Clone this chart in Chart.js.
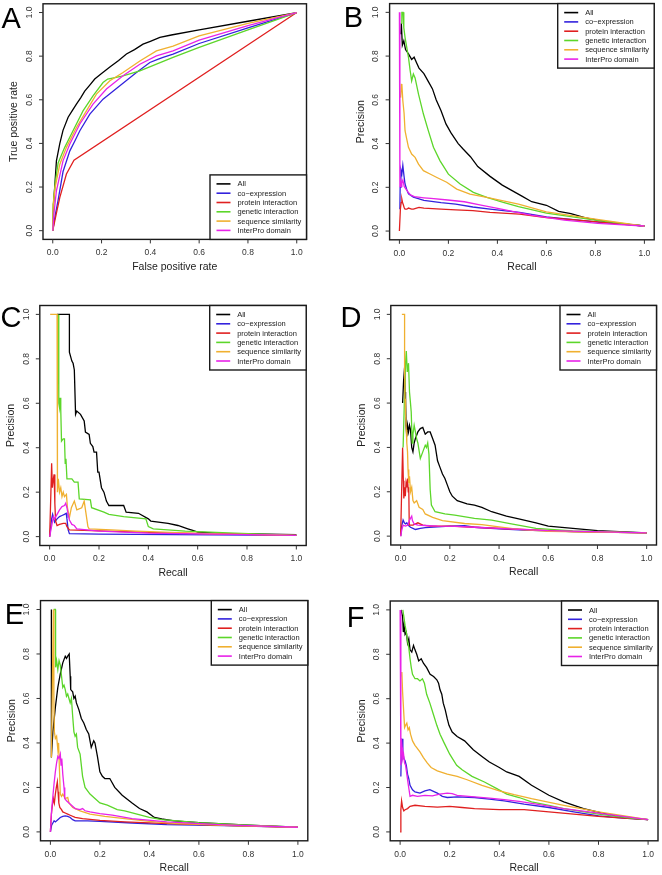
<!DOCTYPE html>
<html>
<head>
<meta charset="utf-8">
<script src="https://cdn.jsdelivr.net/npm/chart.js@4.4.1/dist/chart.umd.min.js"></script>
<style>
html,body{margin:0;padding:0;background:#fff;}
#wrap{position:relative;width:662px;height:875px;overflow:hidden;background:#fff;}
#wrap canvas{position:absolute;left:0;top:0;}
</style>
</head>
<body>
<div id="wrap"></div>
<script>
// ---------- categories / tick labels ----------
const seriesNames = ["All","co\u2212expression","protein interaction","genetic interaction","sequence similarity","InterPro domain"];
const tickValues = [0,0.2,0.4,0.6,0.8,1.0];
const tickLabels = ["0.0","0.2","0.4","0.6","0.8","1.0"];
const panelLetters = ["A","B","C","D","E","F"];
const xTitles = ["False positive rate","Recall","Recall","Recall","Recall","Recall"];
const yTitles = ["True positive rate","Precision","Precision","Precision","Precision","Precision"];

// ---------- panel A (ROC: [FPR, TPR]) ----------
const rocA_all = [[0,0],[0.003,0.12],[0.008,0.2],[0.015,0.32],[0.029,0.4],[0.042,0.46],[0.063,0.52],[0.08,0.55],[0.097,0.58],[0.115,0.61],[0.131,0.64],[0.15,0.665],[0.172,0.695],[0.2,0.72],[0.234,0.75],[0.27,0.78],[0.302,0.81],[0.335,0.83],[0.37,0.855],[0.4,0.868],[0.439,0.886],[0.486,0.897],[0.6,0.92],[0.8,0.96],[1,1]];
const rocA_coexp = [[0,0],[0.01,0.07],[0.022,0.14],[0.042,0.27],[0.07,0.366],[0.09,0.41],[0.111,0.458],[0.152,0.534],[0.206,0.603],[0.275,0.664],[0.343,0.725],[0.398,0.771],[0.43,0.785],[0.452,0.794],[0.493,0.809],[0.6,0.858],[0.8,0.93],[1,1]];
const rocA_prot = [[0,0],[0.015,0.08],[0.029,0.153],[0.056,0.26],[0.087,0.323],[1,1]];
const rocA_gen = [[0,0],[0.002,0.12],[0.01,0.22],[0.022,0.31],[0.049,0.382],[0.083,0.458],[0.124,0.549],[0.165,0.618],[0.206,0.679],[0.225,0.695],[0.26,0.703],[0.288,0.71],[0.357,0.733],[0.425,0.763],[0.493,0.794],[0.6,0.84],[0.8,0.92],[1,1]];
const rocA_seq = [[0,0],[0.002,0.12],[0.01,0.2],[0.029,0.305],[0.056,0.382],[0.097,0.473],[0.138,0.549],[0.179,0.626],[0.234,0.687],[0.288,0.725],[0.357,0.778],[0.425,0.824],[0.493,0.846],[0.6,0.893],[0.8,0.95],[1,1]];
const rocA_ipr = [[0,0],[0.005,0.08],[0.015,0.183],[0.042,0.32],[0.07,0.397],[0.111,0.489],[0.165,0.58],[0.22,0.649],[0.288,0.71],[0.357,0.763],[0.425,0.801],[0.493,0.824],[0.6,0.873],[0.8,0.94],[1,1]];

// ---------- panel B (PR: [recall, precision]) ----------
const prB_all = [[0.006,0.9],[0.008,0.95],[0.012,0.85],[0.018,0.87],[0.025,0.83],[0.037,0.81],[0.05,0.785],[0.06,0.795],[0.07,0.77],[0.08,0.745],[0.1,0.72],[0.12,0.68],[0.135,0.65],[0.15,0.6],[0.17,0.55],[0.19,0.49],[0.21,0.45],[0.24,0.4],[0.26,0.375],[0.29,0.34],[0.32,0.295],[0.37,0.25],[0.42,0.21],[0.46,0.185],[0.5,0.16],[0.54,0.134],[0.6,0.118],[0.65,0.09],[0.7,0.08],[0.76,0.06],[0.82,0.048],[0.89,0.035],[1,0.023]];
const prB_coexp = [[0.002,0.1],[0.003,0.2],[0.006,0.28],[0.01,0.26],[0.014,0.3],[0.019,0.25],[0.023,0.215],[0.03,0.19],[0.037,0.17],[0.057,0.155],[0.1,0.14],[0.17,0.13],[0.23,0.123],[0.3,0.11],[0.37,0.1],[0.49,0.085],[0.6,0.065],[0.8,0.042],[1,0.023]];
const prB_prot = [[0,0],[0.004,0.1],[0.007,0.13],[0.01,0.146],[0.013,0.13],[0.016,0.12],[0.02,0.105],[0.023,0.1],[0.03,0.1],[0.037,0.105],[0.05,0.1],[0.057,0.1],[0.07,0.105],[0.08,0.108],[0.1,0.105],[0.17,0.1],[0.23,0.097],[0.3,0.093],[0.37,0.085],[0.49,0.077],[0.6,0.062],[0.8,0.043],[1,0.023]];
const prB_gen = [[0.008,0.95],[0.01,1.0],[0.015,1.0],[0.018,0.93],[0.023,0.886],[0.03,0.84],[0.037,0.794],[0.044,0.733],[0.05,0.687],[0.057,0.718],[0.064,0.7],[0.078,0.626],[0.098,0.535],[0.118,0.459],[0.139,0.383],[0.166,0.321],[0.2,0.26],[0.248,0.215],[0.302,0.177],[0.357,0.154],[0.424,0.131],[0.486,0.112],[0.6,0.082],[0.8,0.05],[1,0.023]];
const prB_seq = [[0.005,0.61],[0.008,0.67],[0.01,0.672],[0.014,0.596],[0.019,0.54],[0.023,0.459],[0.03,0.42],[0.037,0.383],[0.05,0.352],[0.064,0.337],[0.078,0.306],[0.098,0.276],[0.125,0.261],[0.153,0.245],[0.193,0.223],[0.234,0.192],[0.288,0.169],[0.357,0.154],[0.424,0.138],[0.486,0.123],[0.6,0.088],[0.8,0.055],[1,0.023]];
const prB_ipr = [[0,1.0],[0.002,0.2],[0.005,0.24],[0.007,0.203],[0.01,0.22],[0.014,0.233],[0.02,0.203],[0.034,0.18],[0.045,0.165],[0.061,0.157],[0.1,0.152],[0.129,0.149],[0.197,0.142],[0.265,0.134],[0.333,0.119],[0.401,0.104],[0.537,0.073],[0.673,0.05],[0.81,0.035],[1,0.023]];

// ---------- panel C ----------
const prC_all = [[0.03,1],[0.08,1],[0.08,0.83],[0.085,0.81],[0.09,0.79],[0.095,0.78],[0.1,0.75],[0.105,0.55],[0.11,0.565],[0.125,0.55],[0.14,0.52],[0.145,0.47],[0.16,0.46],[0.165,0.42],[0.175,0.405],[0.18,0.38],[0.19,0.38],[0.195,0.29],[0.2,0.29],[0.21,0.22],[0.22,0.2],[0.23,0.16],[0.24,0.14],[0.3,0.14],[0.31,0.11],[0.36,0.105],[0.4,0.08],[0.41,0.07],[0.48,0.06],[0.52,0.05],[0.56,0.035],[0.58,0.028],[0.6,0.02],[0.7,0.015],[1,0.009]];
const prC_coexp = [[0,0],[0.008,0.08],[0.012,0.1],[0.02,0.065],[0.03,0.08],[0.04,0.09],[0.05,0.095],[0.06,0.1],[0.067,0.105],[0.07,0.08],[0.075,0.03],[0.08,0.013],[0.2,0.011],[0.5,0.009],[1,0.006]];
const prC_prot = [[0,0],[0.005,0.2],[0.008,0.33],[0.011,0.22],[0.015,0.26],[0.018,0.28],[0.021,0.15],[0.024,0.07],[0.03,0.05],[0.04,0.055],[0.055,0.06],[0.065,0.06],[0.07,0.045],[0.08,0.03],[0.2,0.026],[0.47,0.017],[1,0.006]];
const prC_gen = [[0.035,1],[0.037,0.6],[0.04,0.58],[0.042,0.625],[0.045,0.57],[0.048,0.43],[0.055,0.44],[0.06,0.44],[0.063,0.33],[0.066,0.35],[0.07,0.26],[0.09,0.26],[0.1,0.245],[0.115,0.245],[0.12,0.17],[0.165,0.165],[0.17,0.13],[0.22,0.11],[0.24,0.1],[0.3,0.09],[0.39,0.08],[0.4,0.045],[0.42,0.035],[0.55,0.025],[0.75,0.016],[1,0.006]];
const prC_seq = [[0.002,1],[0.03,1],[0.03,0.27],[0.033,0.2],[0.035,0.26],[0.04,0.2],[0.045,0.22],[0.05,0.18],[0.055,0.2],[0.06,0.18],[0.068,0.19],[0.072,0.13],[0.08,0.085],[0.088,0.13],[0.1,0.16],[0.11,0.12],[0.13,0.13],[0.14,0.16],[0.155,0.045],[0.16,0.035],[0.25,0.03],[0.35,0.025],[0.6,0.015],[1,0.006]];
const prC_ipr = [[0,0],[0.01,0.06],[0.015,0.09],[0.02,0.08],[0.03,0.1],[0.04,0.12],[0.05,0.135],[0.06,0.14],[0.065,0.15],[0.07,0.13],[0.075,0.1],[0.08,0.075],[0.09,0.055],[0.1,0.05],[0.11,0.035],[0.2,0.025],[0.4,0.016],[1,0.006]];

// ---------- panel D ----------
const prD_all = [[0.008,0.6],[0.012,0.7],[0.016,0.76],[0.018,0.65],[0.02,0.62],[0.022,0.5],[0.025,0.45],[0.028,0.5],[0.032,0.47],[0.036,0.5],[0.04,0.48],[0.045,0.4],[0.05,0.38],[0.055,0.42],[0.06,0.44],[0.07,0.47],[0.08,0.485],[0.09,0.49],[0.1,0.46],[0.11,0.47],[0.12,0.47],[0.13,0.44],[0.14,0.41],[0.15,0.34],[0.16,0.31],[0.17,0.28],[0.18,0.26],[0.19,0.23],[0.2,0.2],[0.21,0.18],[0.23,0.16],[0.27,0.145],[0.3,0.14],[0.33,0.13],[0.37,0.11],[0.43,0.09],[0.48,0.078],[0.55,0.06],[0.6,0.045],[0.7,0.035],[0.8,0.025],[1,0.015]];
const prD_coexp = [[0,0],[0.005,0.05],[0.01,0.073],[0.015,0.06],[0.02,0.055],[0.025,0.06],[0.03,0.05],[0.04,0.04],[0.05,0.035],[0.06,0.03],[0.08,0.035],[0.1,0.038],[0.15,0.042],[0.2,0.045],[0.26,0.047],[0.3,0.04],[0.4,0.033],[0.5,0.027],[0.7,0.02],[1,0.015]];
const prD_prot = [[0,0],[0.004,0.2],[0.008,0.4],[0.011,0.25],[0.013,0.17],[0.016,0.22],[0.019,0.18],[0.022,0.24],[0.025,0.22],[0.028,0.26],[0.031,0.2],[0.033,0.22],[0.035,0.05],[0.05,0.05],[0.07,0.06],[0.09,0.05],[0.12,0.045],[0.2,0.045],[0.3,0.04],[0.5,0.03],[0.7,0.02],[1,0.015]];
const prD_gen = [[0.01,0.4],[0.015,0.6],[0.02,0.78],[0.023,0.835],[0.027,0.74],[0.032,0.78],[0.036,0.65],[0.04,0.6],[0.043,0.56],[0.047,0.42],[0.05,0.46],[0.055,0.5],[0.06,0.47],[0.065,0.44],[0.07,0.42],[0.08,0.35],[0.09,0.38],[0.1,0.41],[0.105,0.4],[0.11,0.42],[0.115,0.37],[0.12,0.21],[0.125,0.14],[0.14,0.11],[0.18,0.1],[0.22,0.095],[0.3,0.08],[0.37,0.072],[0.45,0.055],[0.55,0.035],[0.7,0.024],[1,0.015]];
const prD_seq = [[0.005,1],[0.016,1],[0.016,0.75],[0.018,0.62],[0.02,0.55],[0.023,0.48],[0.025,0.42],[0.028,0.38],[0.03,0.3],[0.033,0.24],[0.036,0.27],[0.04,0.2],[0.045,0.22],[0.05,0.16],[0.055,0.15],[0.065,0.16],[0.075,0.13],[0.09,0.12],[0.1,0.1],[0.13,0.085],[0.17,0.07],[0.26,0.057],[0.33,0.052],[0.4,0.042],[0.48,0.03],[0.6,0.022],[1,0.015]];
const prD_ipr = [[0,0],[0.005,0.03],[0.01,0.05],[0.02,0.045],[0.03,0.05],[0.035,0.07],[0.04,0.08],[0.045,0.09],[0.048,0.07],[0.055,0.055],[0.07,0.05],[0.1,0.048],[0.15,0.045],[0.23,0.044],[0.3,0.04],[0.4,0.035],[0.6,0.025],[1,0.015]];

// ---------- panel E ----------
const prE_all = [[0.004,1.0],[0.004,0.335],[0.01,0.45],[0.02,0.56],[0.03,0.65],[0.04,0.71],[0.05,0.76],[0.06,0.79],[0.065,0.78],[0.07,0.79],[0.076,0.8],[0.08,0.7],[0.082,0.64],[0.09,0.63],[0.095,0.6],[0.1,0.61],[0.105,0.58],[0.115,0.55],[0.125,0.51],[0.135,0.49],[0.145,0.46],[0.155,0.44],[0.165,0.38],[0.175,0.41],[0.18,0.4],[0.19,0.34],[0.2,0.27],[0.21,0.25],[0.22,0.24],[0.24,0.24],[0.26,0.2],[0.29,0.165],[0.33,0.13],[0.36,0.105],[0.39,0.09],[0.42,0.065],[0.45,0.058],[0.5,0.05],[0.6,0.042],[0.8,0.03],[1,0.021]];
const prE_coexp = [[0,0],[0.005,0.03],[0.01,0.04],[0.015,0.05],[0.02,0.045],[0.03,0.055],[0.04,0.065],[0.05,0.07],[0.06,0.072],[0.07,0.07],[0.08,0.065],[0.09,0.055],[0.1,0.05],[0.15,0.05],[0.2,0.047],[0.33,0.04],[0.47,0.033],[0.7,0.028],[1,0.021]];
const prE_prot = [[0,0],[0.004,0.08],[0.008,0.12],[0.012,0.15],[0.016,0.13],[0.02,0.17],[0.024,0.2],[0.028,0.225],[0.031,0.18],[0.034,0.13],[0.038,0.11],[0.045,0.1],[0.05,0.09],[0.06,0.085],[0.07,0.08],[0.08,0.075],[0.1,0.065],[0.13,0.06],[0.2,0.052],[0.3,0.045],[0.45,0.038],[0.7,0.03],[1,0.021]];
const prE_gen = [[0.013,1.0],[0.02,1.0],[0.021,0.74],[0.025,0.77],[0.03,0.73],[0.035,0.77],[0.04,0.75],[0.045,0.7],[0.05,0.65],[0.055,0.66],[0.06,0.64],[0.065,0.61],[0.07,0.62],[0.075,0.6],[0.08,0.58],[0.085,0.6],[0.09,0.52],[0.095,0.45],[0.1,0.43],[0.105,0.44],[0.11,0.38],[0.12,0.35],[0.13,0.25],[0.14,0.2],[0.16,0.17],[0.18,0.15],[0.2,0.13],[0.23,0.12],[0.27,0.1],[0.3,0.095],[0.35,0.08],[0.4,0.065],[0.45,0.055],[0.6,0.042],[0.8,0.03],[1,0.021]];
const prE_seq = [[0.004,0.335],[0.012,1.0],[0.014,0.6],[0.016,0.45],[0.02,0.42],[0.025,0.43],[0.03,0.37],[0.033,0.4],[0.036,0.3],[0.04,0.17],[0.045,0.16],[0.05,0.17],[0.06,0.15],[0.07,0.155],[0.075,0.13],[0.09,0.11],[0.12,0.095],[0.16,0.08],[0.22,0.07],[0.3,0.06],[0.4,0.047],[0.5,0.038],[0.7,0.03],[1,0.021]];
const prE_ipr = [[0,0],[0.005,0.1],[0.01,0.16],[0.015,0.22],[0.02,0.27],[0.025,0.31],[0.03,0.34],[0.035,0.33],[0.04,0.35],[0.043,0.3],[0.046,0.33],[0.05,0.26],[0.055,0.2],[0.058,0.15],[0.065,0.14],[0.075,0.13],[0.085,0.12],[0.1,0.105],[0.12,0.1],[0.13,0.105],[0.14,0.095],[0.16,0.09],[0.2,0.082],[0.25,0.075],[0.33,0.06],[0.47,0.045],[0.7,0.032],[1,0.021]];

// ---------- panel F ----------
const prF_all = [[0.004,1.0],[0.01,0.97],[0.013,0.9],[0.016,0.93],[0.02,0.89],[0.025,0.9],[0.03,0.85],[0.035,0.87],[0.04,0.82],[0.047,0.81],[0.054,0.84],[0.06,0.82],[0.067,0.8],[0.075,0.77],[0.085,0.78],[0.094,0.76],[0.107,0.74],[0.121,0.71],[0.135,0.7],[0.148,0.685],[0.155,0.67],[0.161,0.64],[0.168,0.62],[0.174,0.58],[0.182,0.55],[0.19,0.51],[0.197,0.48],[0.21,0.45],[0.23,0.43],[0.26,0.41],[0.295,0.37],[0.33,0.34],[0.36,0.315],[0.4,0.29],[0.43,0.27],[0.48,0.25],[0.53,0.21],[0.6,0.165],[0.66,0.135],[0.74,0.105],[0.82,0.083],[0.9,0.066],[0.95,0.06],[1,0.055]];
const prF_coexp = [[0.003,0.25],[0.005,0.38],[0.008,0.42],[0.011,0.36],[0.015,0.33],[0.02,0.32],[0.025,0.3],[0.03,0.26],[0.035,0.24],[0.04,0.21],[0.05,0.19],[0.06,0.18],[0.08,0.175],[0.1,0.185],[0.12,0.19],[0.13,0.185],[0.15,0.175],[0.17,0.16],[0.19,0.155],[0.23,0.158],[0.3,0.155],[0.36,0.148],[0.42,0.14],[0.5,0.125],[0.6,0.11],[0.7,0.09],[0.8,0.072],[0.9,0.062],[1,0.055]];
const prF_prot = [[0,0],[0.003,0.1],[0.006,0.14],[0.01,0.11],[0.015,0.095],[0.02,0.1],[0.03,0.105],[0.04,0.115],[0.06,0.12],[0.1,0.115],[0.15,0.112],[0.2,0.115],[0.25,0.11],[0.3,0.105],[0.4,0.1],[0.5,0.1],[0.6,0.09],[0.7,0.08],[0.8,0.07],[0.9,0.062],[1,0.055]];
const prF_gen = [[0.011,1.0],[0.015,0.97],[0.02,0.93],[0.025,0.9],[0.03,0.86],[0.035,0.83],[0.04,0.78],[0.045,0.74],[0.05,0.71],[0.06,0.69],[0.07,0.69],[0.08,0.68],[0.09,0.69],[0.098,0.67],[0.107,0.62],[0.12,0.58],[0.134,0.53],[0.148,0.48],[0.161,0.44],[0.178,0.4],[0.2,0.35],[0.228,0.3],[0.25,0.28],[0.29,0.25],[0.34,0.225],[0.39,0.195],[0.43,0.17],[0.48,0.155],[0.53,0.135],[0.6,0.12],[0.66,0.105],[0.8,0.08],[0.93,0.062],[1,0.055]];
const prF_seq = [[0.005,0.7],[0.007,0.72],[0.01,0.63],[0.014,0.55],[0.018,0.47],[0.022,0.48],[0.027,0.49],[0.032,0.46],[0.037,0.47],[0.042,0.44],[0.05,0.41],[0.06,0.39],[0.067,0.38],[0.08,0.36],[0.094,0.335],[0.11,0.31],[0.125,0.29],[0.15,0.275],[0.19,0.26],[0.23,0.25],[0.27,0.235],[0.33,0.21],[0.4,0.185],[0.46,0.168],[0.53,0.15],[0.66,0.12],[0.8,0.09],[0.93,0.068],[1,0.055]];
const prF_ipr = [[0,1.0],[0.003,0.3],[0.005,0.42],[0.008,0.38],[0.01,0.33],[0.014,0.35],[0.018,0.31],[0.022,0.3],[0.027,0.26],[0.032,0.22],[0.036,0.19],[0.04,0.16],[0.05,0.165],[0.07,0.16],[0.1,0.165],[0.13,0.162],[0.16,0.17],[0.19,0.175],[0.21,0.172],[0.23,0.165],[0.3,0.158],[0.36,0.152],[0.42,0.145],[0.48,0.138],[0.55,0.125],[0.66,0.105],[0.8,0.085],[0.9,0.07],[1,0.055]];

// ---------- styles & layout (kept apart from the data) ----------
const seriesColors = ["#000000","#3322dd","#e02020","#5cd62a","#f0b030","#e822e8"];
const W = 662, H = 875;
const layoutSpec = [
  {box:[43,3.8,306.5,239.4], legend:"bottomright", letterAt:[1.5,28]},
  {box:[389.6,3.6,654.2,239.8], legend:"topright", letterAt:[343.8,27]},
  {box:[39.8,305.5,306.2,545.5], legend:"topright", letterAt:[0.6,327]},
  {box:[390.8,305.5,656.5,545], legend:"topright", letterAt:[340.4,327]},
  {box:[40.5,600.6,307.8,840.8], legend:"topright", letterAt:[4.7,624]},
  {box:[390.2,601,658,840.8], legend:"topright", letterAt:[346.7,627]}
];
const panelSeries = [
  [rocA_all,rocA_coexp,rocA_prot,rocA_gen,rocA_seq,rocA_ipr],
  [prB_all,prB_coexp,prB_prot,prB_gen,prB_seq,prB_ipr],
  [prC_all,prC_coexp,prC_prot,prC_gen,prC_seq,prC_ipr],
  [prD_all,prD_coexp,prD_prot,prD_gen,prD_seq,prD_ipr],
  [prE_all,prE_coexp,prE_prot,prE_gen,prE_seq,prE_ipr],
  [prF_all,prF_coexp,prF_prot,prF_gen,prF_seq,prF_ipr]
];
const FONT = '"Liberation Sans", Arial, Helvetica, sans-serif';

const framePlugin = {
  id: 'rframe',
  afterDraw(chart, args, opts) {
    const {ctx, chartArea: a, scales: {x, y}} = chart;
    ctx.save();
    // plot box
    ctx.strokeStyle = '#1a1a1a';
    ctx.lineWidth = 1.4;
    ctx.strokeRect(a.left, a.top, a.right - a.left, a.bottom - a.top);
    // ticks
    ctx.lineWidth = 1;
    ctx.strokeStyle = '#333';
    ctx.fillStyle = '#333';
    ctx.font = '8.5px ' + FONT;
    ctx.textAlign = 'center';
    ctx.textBaseline = 'middle';
    tickValues.forEach((v, i) => {
      const px = x.getPixelForValue(v);
      ctx.beginPath(); ctx.moveTo(px, a.bottom); ctx.lineTo(px, a.bottom + 4); ctx.stroke();
      ctx.fillText(tickLabels[i], px, a.bottom + 13.5);
      const py = y.getPixelForValue(v);
      ctx.beginPath(); ctx.moveTo(a.left, py); ctx.lineTo(a.left - 4, py); ctx.stroke();
      ctx.save();
      ctx.translate(a.left - 13.5, py);
      ctx.rotate(-Math.PI / 2);
      ctx.fillText(tickLabels[i], 0, 0);
      ctx.restore();
    });
    // axis titles
    ctx.fillStyle = '#222';
    ctx.font = '10.5px ' + FONT;
    ctx.fillText(opts.xTitle, (a.left + a.right) / 2, a.bottom + 27.5);
    ctx.save();
    ctx.translate(a.left - 28.5, (a.top + a.bottom) / 2);
    ctx.rotate(-Math.PI / 2);
    ctx.fillText(opts.yTitle, 0, 0);
    ctx.restore();
    // legend
    const lw = 96.5, lh = 64.5;
    const lx = a.right - lw;
    const ly = opts.legend === 'bottomright' ? a.bottom - lh : a.top;
    ctx.fillStyle = '#fff';
    ctx.fillRect(lx, ly, lw, lh);
    ctx.strokeStyle = '#1a1a1a';
    ctx.lineWidth = 1.4;
    ctx.strokeRect(lx, ly, lw, lh);
    ctx.font = '7.5px ' + FONT;
    ctx.textAlign = 'left';
    chart.data.datasets.forEach((ds, i) => {
      const ry = ly + 9 + i * 9.3;
      ctx.strokeStyle = ds.borderColor;
      ctx.lineWidth = 1.6;
      ctx.beginPath(); ctx.moveTo(lx + 6.5, ry); ctx.lineTo(lx + 20.5, ry); ctx.stroke();
      ctx.fillStyle = '#222';
      ctx.fillText(ds.label, lx + 27.5, ry + 0.5);
    });
    // panel letter
    ctx.fillStyle = '#000';
    ctx.font = '29px ' + FONT;
    ctx.textBaseline = 'alphabetic';
    ctx.fillText(opts.letter, opts.letterAt[0], opts.letterAt[1]);
    ctx.restore();
  }
};

const wrap = document.getElementById('wrap');
panelSeries.forEach((series, p) => {
  const spec = layoutSpec[p];
  const [L, T, R, B] = spec.box;
  const cv = document.createElement('canvas');
  cv.width = W; cv.height = H;
  cv.style.width = W + 'px'; cv.style.height = H + 'px';
  wrap.appendChild(cv);
  new Chart(cv, {
    type: 'line',
    data: {
      datasets: series.map((pts, i) => ({
        label: seriesNames[i],
        data: pts.map(([xv, yv]) => ({x: xv, y: yv})),
        borderColor: seriesColors[i],
        backgroundColor: seriesColors[i],
        borderWidth: 1.3,
        pointRadius: 0,
        tension: 0,
        fill: false,
        order: 6 - i
      }))
    },
    options: {
      responsive: false,
      animation: false,
      events: [],
      devicePixelRatio: 1,
      layout: {padding: {left: L, top: T, right: W - R, bottom: H - B}},
      scales: {
        x: {type: 'linear', min: -0.04, max: 1.04, display: false},
        y: {type: 'linear', min: -0.04, max: 1.04, display: false}
      },
      plugins: {
        legend: {display: false},
        tooltip: {enabled: false},
        rframe: {
          xTitle: xTitles[p], yTitle: yTitles[p],
          letter: panelLetters[p], letterAt: spec.letterAt, legend: spec.legend
        }
      }
    },
    plugins: [framePlugin]
  });
});
</script>
</body>
</html>
